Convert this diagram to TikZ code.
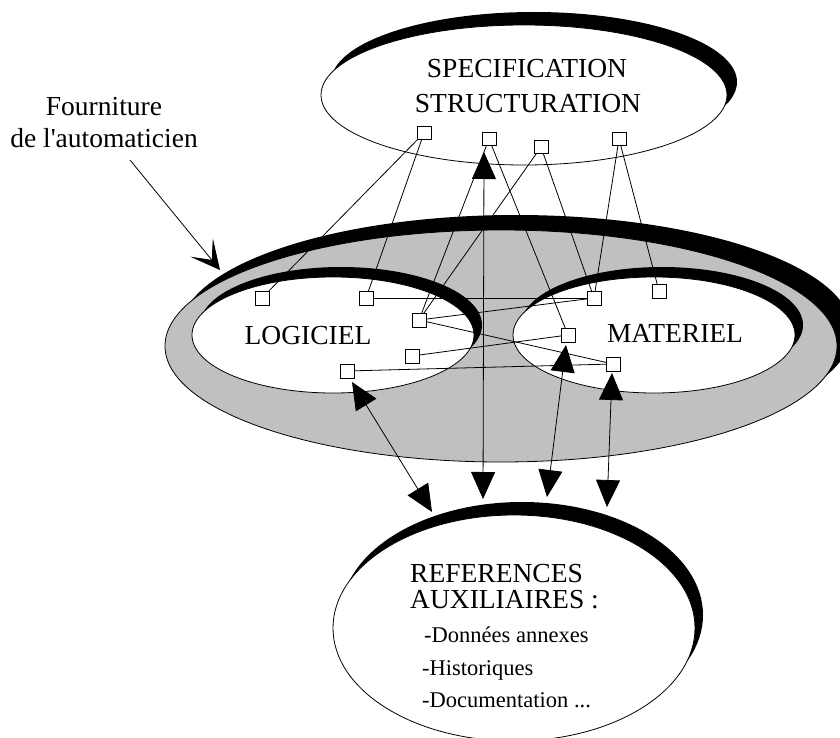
\documentclass[tikz,border=0pt]{standalone}
\usepackage{fontspec}
\setmainfont{Liberation Serif}
\newfontfamily\plainserif{Liberation Serif}
\usetikzlibrary{arrows.meta}
\definecolor{ringgray}{RGB}{192,192,192}
\tikzset{
  sq/.style={draw, fill=white, minimum size=13pt, inner sep=0pt, line width=0.8pt},
  conn/.style={line width=0.8pt},
  dbl/.style={line width=0.8pt, {Triangle[length=27pt,width=24pt]}-{Triangle[length=27pt,width=24pt]}},
  pointer/.style={line width=0.8pt, -{Stealth[length=29pt,width=29pt,inset=16pt]}},
  bigtxt/.style={font=\fontsize{27.5}{30}\selectfont, inner sep=0pt},
  smalltxt/.style={font=\fontsize{22.5}{26}\selectfont, inner sep=0pt},
  outl/.style={draw, line width=0.8pt},
}
\begin{document}
\begin{tikzpicture}[x=1pt, y=-1pt]
\useasboundingbox (0,0) rectangle (840,738);
\clip (0,0) rectangle (840,738);
% big ring
\fill[black] (516,331) ellipse [x radius=336, y radius=116];
\path[outl, fill=ringgray] (501,346) ellipse [x radius=336, y radius=116];
% logiciel
\fill[black] (341,325) ellipse [x radius=141, y radius=58];
\path[outl, fill=white] (333,335) ellipse [x radius=141, y radius=58];
% materiel
\fill[black] (662,325) ellipse [x radius=141, y radius=58];
\path[outl, fill=white] (654,335) ellipse [x radius=141, y radius=58];
% top
\fill[black] (534,82) ellipse [x radius=203, y radius=70];
\path[outl, fill=white] (524,95) ellipse [x radius=203, y radius=70];
% bottom
\fill[black] (522,615) ellipse [x radius=181, y radius=113];
\path[outl, fill=white] (514,628) ellipse [x radius=181, y radius=113];

% squares
\node[sq] (T1) at (424,133) {};
\node[sq] (T2) at (489,139) {};
\node[sq] (T3) at (541,147) {};
\node[sq] (T4) at (619,139) {};
\node[sq] (L1) at (262,298) {};
\node[sq] (L2) at (366,298) {};
\node[sq] (L3) at (419,320) {};
\node[sq] (L4) at (412,356) {};
\node[sq] (L5) at (347,371) {};
\node[sq] (M1) at (594,298) {};
\node[sq] (M2) at (659,291) {};
\node[sq] (M3) at (568,335) {};
\node[sq] (M4) at (613,364) {};

% connectors
\draw[conn] (T1.center) -- (L1.center);
\draw[conn] (T1.center) -- (L2.center);
\draw[conn] (T2.center) -- (L3.center);
\draw[conn] (T2.center) -- (M3.center);
\draw[conn] (T3.center) -- (L3.center);
\draw[conn] (T3.center) -- (M1.center);
\draw[conn] (T4.center) -- (M1.center);
\draw[conn] (T4.center) -- (M2.center);
\draw[conn] (L2.center) -- (M1.center);
\draw[conn] (L3.center) -- (M1.center);
\draw[conn] (L3.center) -- (M4.center);
\draw[conn] (L4.center) -- (M3.center);
\draw[conn] (L5.center) -- (M4.center);
% redraw squares over lines
\foreach \n in {T1,T2,T3,T4,L1,L2,L3,L4,L5,M1,M2,M3,M4}
  \draw[line width=0.8pt, fill=white] (\n.south west) rectangle (\n.north east);

% texts
\node[bigtxt, anchor=base] (spec) at (527,78) {SPECIFICATION};
\node[bigtxt, anchor=base] (struct) at (528,113) {STRUCTURATION};
\node[bigtxt, anchor=base] (four1) at (104,116) {Fourniture};
\node[bigtxt, anchor=base] (four2) at (104,148) {\plainserif de l'automaticien};
\node[bigtxt, anchor=base] (logi) at (308,344) {LOGICIEL};
\node[bigtxt, anchor=base] (mate) at (675,342) {MATERIEL};
\node[bigtxt, anchor=base west] (ref1) at (410,582) {REFERENCES};
\node[bigtxt, anchor=base west] (ref2) at (410,608) {AUXILIAIRES :};
\node[smalltxt, anchor=base west] (ref3) at (424,642) {-Données annexes};
\node[smalltxt, anchor=base west] (ref4) at (422,675) {-Historiques};
\node[smalltxt, anchor=base west] (ref5) at (422,707) {-Documentation ...};

% arrow end points
\coordinate (fa) at (130,160);
\coordinate (fb) at (220,270);
\coordinate (va) at (484,152);
\coordinate (vb) at (483,499);
\coordinate (la) at (352,382);
\coordinate (lb) at (432,512);
\coordinate (ma) at (566,345);
\coordinate (mb) at (547,497);
\coordinate (na) at (612,373);
\coordinate (nb) at (607,507);

\draw[pointer] (fa) -- (fb);
\draw[dbl] (va) -- (vb);
\draw[dbl] (la) -- (lb);
\draw[dbl] (ma) -- (mb);
\draw[dbl] (na) -- (nb);
\end{tikzpicture}
\end{document}
